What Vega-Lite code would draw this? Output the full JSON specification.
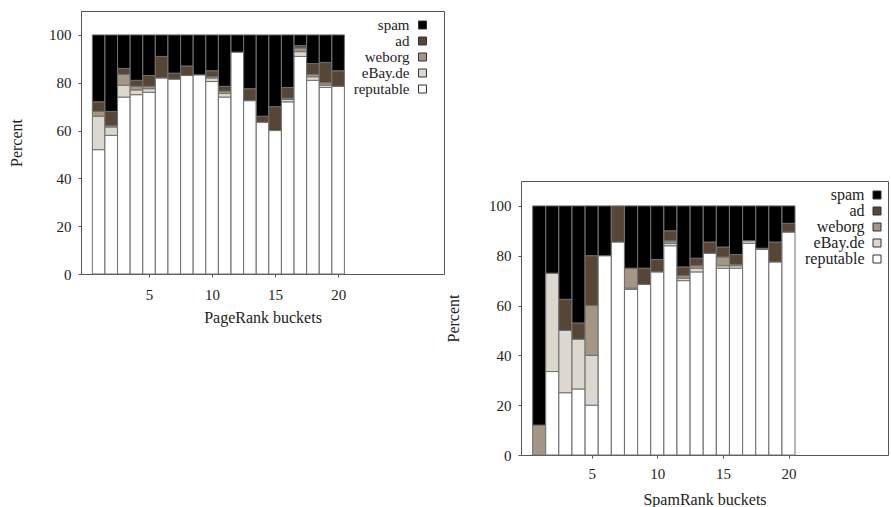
{
  "$schema": "https://vega.github.io/schema/vega-lite/v6.json",
  "padding": {"left": 8, "top": 10, "right": 0, "bottom": 0},
  "datasets": {
    "pr": [
      {"bucket": 1, "type": "reputable", "pct": 52}, {"bucket": 1, "type": "eBay.de", "pct": 14}, {"bucket": 1, "type": "weborg", "pct": 2}, {"bucket": 1, "type": "ad", "pct": 4}, {"bucket": 1, "type": "spam", "pct": 28},
      {"bucket": 2, "type": "reputable", "pct": 58}, {"bucket": 2, "type": "eBay.de", "pct": 3.5}, {"bucket": 2, "type": "weborg", "pct": 0.5}, {"bucket": 2, "type": "ad", "pct": 6}, {"bucket": 2, "type": "spam", "pct": 32},
      {"bucket": 3, "type": "reputable", "pct": 74}, {"bucket": 3, "type": "eBay.de", "pct": 5}, {"bucket": 3, "type": "weborg", "pct": 4.5}, {"bucket": 3, "type": "ad", "pct": 2.5}, {"bucket": 3, "type": "spam", "pct": 14},
      {"bucket": 4, "type": "reputable", "pct": 75}, {"bucket": 4, "type": "eBay.de", "pct": 2}, {"bucket": 4, "type": "weborg", "pct": 1.5}, {"bucket": 4, "type": "ad", "pct": 2.5}, {"bucket": 4, "type": "spam", "pct": 19},
      {"bucket": 5, "type": "reputable", "pct": 76}, {"bucket": 5, "type": "eBay.de", "pct": 1.5}, {"bucket": 5, "type": "weborg", "pct": 1}, {"bucket": 5, "type": "ad", "pct": 4.5}, {"bucket": 5, "type": "spam", "pct": 17},
      {"bucket": 6, "type": "reputable", "pct": 82}, {"bucket": 6, "type": "ad", "pct": 9}, {"bucket": 6, "type": "spam", "pct": 9},
      {"bucket": 7, "type": "reputable", "pct": 81.5}, {"bucket": 7, "type": "ad", "pct": 2.5}, {"bucket": 7, "type": "spam", "pct": 16},
      {"bucket": 8, "type": "reputable", "pct": 83}, {"bucket": 8, "type": "ad", "pct": 4}, {"bucket": 8, "type": "spam", "pct": 13},
      {"bucket": 9, "type": "reputable", "pct": 83.3}, {"bucket": 9, "type": "spam", "pct": 16.7},
      {"bucket": 10, "type": "reputable", "pct": 80.5}, {"bucket": 10, "type": "eBay.de", "pct": 1.5}, {"bucket": 10, "type": "weborg", "pct": 0.5}, {"bucket": 10, "type": "ad", "pct": 2.5}, {"bucket": 10, "type": "spam", "pct": 15},
      {"bucket": 11, "type": "reputable", "pct": 74}, {"bucket": 11, "type": "eBay.de", "pct": 1.5}, {"bucket": 11, "type": "weborg", "pct": 1}, {"bucket": 11, "type": "ad", "pct": 2}, {"bucket": 11, "type": "spam", "pct": 21.5},
      {"bucket": 12, "type": "reputable", "pct": 92.8}, {"bucket": 12, "type": "spam", "pct": 7.2},
      {"bucket": 13, "type": "reputable", "pct": 72.5}, {"bucket": 13, "type": "ad", "pct": 5}, {"bucket": 13, "type": "spam", "pct": 22.5},
      {"bucket": 14, "type": "reputable", "pct": 63.5}, {"bucket": 14, "type": "ad", "pct": 2.5}, {"bucket": 14, "type": "spam", "pct": 34},
      {"bucket": 15, "type": "reputable", "pct": 60}, {"bucket": 15, "type": "ad", "pct": 10}, {"bucket": 15, "type": "spam", "pct": 30},
      {"bucket": 16, "type": "reputable", "pct": 72}, {"bucket": 16, "type": "eBay.de", "pct": 1}, {"bucket": 16, "type": "weborg", "pct": 0.5}, {"bucket": 16, "type": "ad", "pct": 4.5}, {"bucket": 16, "type": "spam", "pct": 22},
      {"bucket": 17, "type": "reputable", "pct": 91}, {"bucket": 17, "type": "eBay.de", "pct": 2}, {"bucket": 17, "type": "weborg", "pct": 1.5}, {"bucket": 17, "type": "ad", "pct": 1}, {"bucket": 17, "type": "spam", "pct": 4.5},
      {"bucket": 18, "type": "reputable", "pct": 81}, {"bucket": 18, "type": "eBay.de", "pct": 1.5}, {"bucket": 18, "type": "weborg", "pct": 1}, {"bucket": 18, "type": "ad", "pct": 4.5}, {"bucket": 18, "type": "spam", "pct": 12},
      {"bucket": 19, "type": "reputable", "pct": 78}, {"bucket": 19, "type": "eBay.de", "pct": 1}, {"bucket": 19, "type": "weborg", "pct": 1}, {"bucket": 19, "type": "ad", "pct": 8.5}, {"bucket": 19, "type": "spam", "pct": 11.5},
      {"bucket": 20, "type": "reputable", "pct": 78.5}, {"bucket": 20, "type": "ad", "pct": 6.5}, {"bucket": 20, "type": "spam", "pct": 15}
    ],
    "sr": [
      {"bucket": 1, "type": "weborg", "pct": 12}, {"bucket": 1, "type": "spam", "pct": 88},
      {"bucket": 2, "type": "reputable", "pct": 33.5}, {"bucket": 2, "type": "eBay.de", "pct": 39.5}, {"bucket": 2, "type": "spam", "pct": 27},
      {"bucket": 3, "type": "reputable", "pct": 25}, {"bucket": 3, "type": "eBay.de", "pct": 25}, {"bucket": 3, "type": "ad", "pct": 12.5}, {"bucket": 3, "type": "spam", "pct": 37.5},
      {"bucket": 4, "type": "reputable", "pct": 26.5}, {"bucket": 4, "type": "eBay.de", "pct": 20}, {"bucket": 4, "type": "ad", "pct": 6.5}, {"bucket": 4, "type": "spam", "pct": 47},
      {"bucket": 5, "type": "reputable", "pct": 20}, {"bucket": 5, "type": "eBay.de", "pct": 20}, {"bucket": 5, "type": "weborg", "pct": 20}, {"bucket": 5, "type": "ad", "pct": 20}, {"bucket": 5, "type": "spam", "pct": 20},
      {"bucket": 6, "type": "reputable", "pct": 80}, {"bucket": 6, "type": "spam", "pct": 20},
      {"bucket": 7, "type": "reputable", "pct": 85.5}, {"bucket": 7, "type": "ad", "pct": 14.5},
      {"bucket": 8, "type": "reputable", "pct": 66.5}, {"bucket": 8, "type": "eBay.de", "pct": 0.5}, {"bucket": 8, "type": "weborg", "pct": 8}, {"bucket": 8, "type": "spam", "pct": 25},
      {"bucket": 9, "type": "reputable", "pct": 68.5}, {"bucket": 9, "type": "ad", "pct": 6.5}, {"bucket": 9, "type": "spam", "pct": 25},
      {"bucket": 10, "type": "reputable", "pct": 73.5}, {"bucket": 10, "type": "ad", "pct": 5}, {"bucket": 10, "type": "spam", "pct": 21.5},
      {"bucket": 11, "type": "reputable", "pct": 84}, {"bucket": 11, "type": "eBay.de", "pct": 1}, {"bucket": 11, "type": "weborg", "pct": 1}, {"bucket": 11, "type": "ad", "pct": 4}, {"bucket": 11, "type": "spam", "pct": 10},
      {"bucket": 12, "type": "reputable", "pct": 70}, {"bucket": 12, "type": "eBay.de", "pct": 1}, {"bucket": 12, "type": "weborg", "pct": 1}, {"bucket": 12, "type": "ad", "pct": 3.5}, {"bucket": 12, "type": "spam", "pct": 24.5},
      {"bucket": 13, "type": "reputable", "pct": 73.5}, {"bucket": 13, "type": "eBay.de", "pct": 1.5}, {"bucket": 13, "type": "weborg", "pct": 1}, {"bucket": 13, "type": "ad", "pct": 3}, {"bucket": 13, "type": "spam", "pct": 21},
      {"bucket": 14, "type": "reputable", "pct": 81}, {"bucket": 14, "type": "ad", "pct": 4.5}, {"bucket": 14, "type": "spam", "pct": 14.5},
      {"bucket": 15, "type": "reputable", "pct": 75}, {"bucket": 15, "type": "eBay.de", "pct": 1}, {"bucket": 15, "type": "weborg", "pct": 3.5}, {"bucket": 15, "type": "ad", "pct": 4}, {"bucket": 15, "type": "spam", "pct": 16.5},
      {"bucket": 16, "type": "reputable", "pct": 75}, {"bucket": 16, "type": "eBay.de", "pct": 1}, {"bucket": 16, "type": "weborg", "pct": 0.5}, {"bucket": 16, "type": "ad", "pct": 4}, {"bucket": 16, "type": "spam", "pct": 19.5},
      {"bucket": 17, "type": "reputable", "pct": 85}, {"bucket": 17, "type": "eBay.de", "pct": 1}, {"bucket": 17, "type": "spam", "pct": 14},
      {"bucket": 18, "type": "reputable", "pct": 82.5}, {"bucket": 18, "type": "eBay.de", "pct": 0.5}, {"bucket": 18, "type": "spam", "pct": 17},
      {"bucket": 19, "type": "reputable", "pct": 77.5}, {"bucket": 19, "type": "ad", "pct": 8}, {"bucket": 19, "type": "spam", "pct": 14.5},
      {"bucket": 20, "type": "reputable", "pct": 89.5}, {"bucket": 20, "type": "ad", "pct": 3.5}, {"bucket": 20, "type": "spam", "pct": 7}
    ]
  },
  "config": {
    "font": "Liberation Serif",
    "view": {"stroke": "#555555", "strokeWidth": 1},
    "axis": {
      "labelFont": "Liberation Serif", "titleFont": "Liberation Serif",
      "labelFontSize": 15, "titleFontSize": 16, "titleFontWeight": "normal",
      "labelColor": "#222222", "titleColor": "#222222",
      "grid": false, "domain": false, "tickColor": "#555555", "tickSize": 3
    },
    "legend": {
      "labelFont": "Liberation Serif", "labelFontSize": 16, "labelColor": "#222222",
      "symbolType": "square", "symbolSize": 64, "symbolStrokeColor": "#333333", "symbolStrokeWidth": 1,
      "labelAlign": "right", "labelOffset": -20.5, "rowPadding": 0, "title": null
    },
    "concat": {"spacing": 0}
  },
  "resolve": {"scale": {"color": "independent"}, "legend": {"color": "independent"}},
  "hconcat": [
    {
      "width": 363,
      "height": 263,
      "data": {"name": "pr"},
      "transform": [{"calculate": "indexof(['reputable','eBay.de','weborg','ad','spam'], datum.type)", "as": "stackorder"}],
      "mark": {"type": "bar", "width": 12.5, "stroke": "#707070", "strokeWidth": 1},
      "encoding": {
        "x": {"field": "bucket", "type": "quantitative", "scale": {"domain": [0, 28], "nice": false},
          "axis": {"values": [5, 10, 15, 20], "title": "PageRank buckets", "labelPadding": 10, "titlePadding": 7}},
        "y": {"field": "pct", "type": "quantitative", "stack": "zero", "scale": {"domain": [0, 110], "nice": false},
          "axis": {"values": [0, 20, 40, 60, 80, 100], "title": "Percent", "labelPadding": 7, "titlePadding": 24}},
        "order": {"field": "stackorder", "type": "quantitative", "sort": "ascending"},
        "color": {"field": "type", "type": "nominal",
          "scale": {"domain": ["spam", "ad", "weborg", "eBay.de", "reputable"], "range": ["#000000", "#574636", "#a39684", "#dcd8cf", "#ffffff"]},
          "legend": {"orient": "none", "legendX": 334, "legendY": 6.5, "labelFontSize": 15, "rowPadding": 0}}
      }
    },
    {
      "spacing": 0,
      "resolve": {"scale": {"color": "independent"}, "legend": {"color": "independent"}},
      "vconcat": [
        {
          "width": 10,
          "height": 169,
          "view": {"stroke": null},
          "data": {"values": []},
          "mark": "point",
          "encoding": {}
        },
        {
          "width": 367,
          "height": 274,
          "data": {"name": "sr"},
          "transform": [{"calculate": "indexof(['reputable','eBay.de','weborg','ad','spam'], datum.type)", "as": "stackorder"}],
          "mark": {"type": "bar", "width": 13, "stroke": "#707070", "strokeWidth": 1},
          "encoding": {
            "x": {"field": "bucket", "type": "quantitative", "scale": {"domain": [0, 27.2], "nice": false},
              "axis": {"values": [5, 10, 15, 20], "title": "SpamRank buckets", "labelPadding": 8, "titlePadding": 10}},
            "y": {"field": "pct", "type": "quantitative", "stack": "zero", "scale": {"domain": [0, 110], "nice": false},
              "axis": {"values": [0, 20, 40, 60, 80, 100], "title": "Percent", "labelPadding": 7, "titlePadding": 27}},
            "order": {"field": "stackorder", "type": "quantitative", "sort": "ascending"},
            "color": {"field": "type", "type": "nominal",
              "scale": {"domain": ["spam", "ad", "weborg", "eBay.de", "reputable"], "range": ["#000000", "#574636", "#a39684", "#dcd8cf", "#ffffff"]},
              "legend": {"orient": "none", "legendX": 348, "legendY": 6, "rowPadding": 0}}
          }
        }
      ]
    }
  ]
}
